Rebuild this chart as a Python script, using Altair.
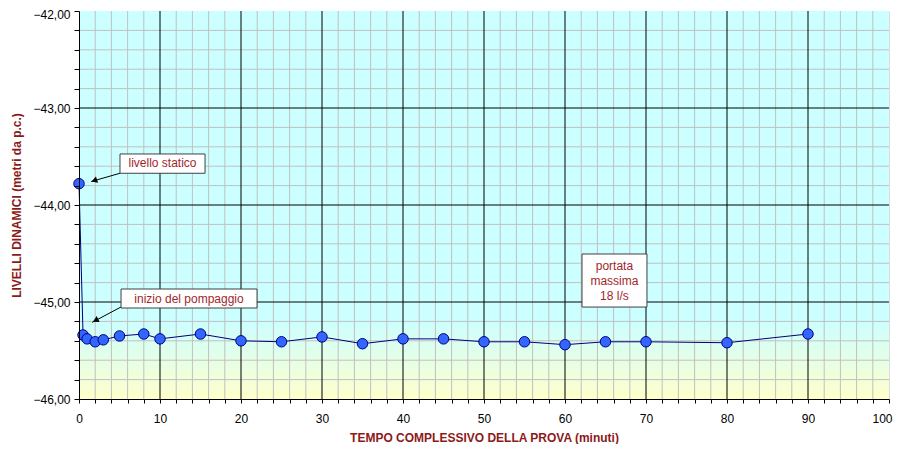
import altair as alt
import pandas as pd

# ---- data ----
times = [0, 0.5, 1, 2, 3, 5, 8, 10, 15, 20, 25, 30, 35, 40, 45, 50, 55, 60, 65, 70, 80, 90]
levels = [-43.78, -45.34, -45.38, -45.41, -45.39, -45.35, -45.33, -45.38, -45.33, -45.40,
          -45.41, -45.36, -45.43, -45.38, -45.38, -45.41, -45.41, -45.44, -45.41, -45.41,
          -45.42, -45.33]

x_ticks = [i * 2 for i in range(51)]
y_ticks = [round(-46 + 0.2 * i, 1) for i in range(21)]
x_major = [10, 20, 30, 40, 50, 60, 70, 80, 90]
y_major = [-45, -44, -43]
x_minor = [v for v in x_ticks if v % 10 != 0]
y_minor = [v for v in y_ticks if abs(v - round(v)) > 0.01]

# annotation boxes (data coordinates)
box_x1 = [5.06, 5.19, 62.1]
box_x2 = [15.56, 21.98, 70.12]
box_y1 = [-43.474, -44.866, -44.505]
box_y2 = [-43.673, -45.062, -45.052]
label_text = ["livello statico", "inizio del pompaggio", "portata", "massima", "18 l/s"]
label_x = [10.31, 13.58, 66.1, 66.1, 66.1]
label_y = [-43.57, -44.964, -44.629, -44.784, -44.938]
arrow_x1 = [5.06, 5.27]
arrow_y1 = [-43.673, -45.048]
arrow_x2 = [1.5, 1.62]
arrow_y2 = [-43.758, -45.21]
head_x = [2.0, 2.15]
head_y = [-43.745, -45.185]
head_angle = [251, 243]

W, H = 810, 388
FONT = "Liberation Sans"
TITLE_RED = "#8B1A1A"
NOTE_RED = "#A3262A"

xs = alt.Scale(domain=[0, 100], nice=False, zero=False)
ys = alt.Scale(domain=[-46, -42], nice=False, zero=False)

x_axis = alt.Axis(
    values=x_ticks, grid=False, tickSize=4, tickColor="black", domainColor="black",
    labelExpr="datum.value % 10 === 0 ? datum.label : ''", labelOverlap=False, labelFlush=False,
    labelOffset={"condition": {"test": "datum.value > 99", "value": -7}, "value": 0},
    labelFont=FONT, labelFontSize=12, labelColor="black", labelPadding=10,
    title="TEMPO COMPLESSIVO DELLA PROVA (minuti)", titleFont=FONT, titleFontSize=12,
    titleFontWeight="bold", titleColor=TITLE_RED, titlePadding=8, zindex=1)
y_axis = alt.Axis(
    values=y_ticks, grid=False, tickSize=5, tickColor="black", domainColor="black",
    labelExpr="abs(datum.value - round(datum.value)) < 0.001 ? replace(format(datum.value, '.2f'), '.', ',') : ''",
    labelOverlap=False, labelFlush=False,
    labelOffset={"condition": {"test": "datum.value > -42.1", "value": 3}, "value": 0},
    labelFont=FONT, labelFontSize=12, labelColor="black", labelPadding=4,
    title="LIVELLI DINAMICI (metri da p.c.)", titleFont=FONT, titleFontSize=12,
    titleFontWeight="bold", titleColor=TITLE_RED, titlePadding=9, zindex=1)


def X(f):
    return alt.X(f, scale=xs, axis=x_axis)


def Y(f):
    return alt.Y(f, scale=ys, axis=y_axis)


df = pd.DataFrame({"t": times, "lev": levels, "i": range(len(times))})

grad = alt.LinearGradient(
    gradient="linear", x1=0, x2=0, y1=0, y2=1,
    stops=[alt.GradientStop(offset=0, color="#CCFFFF"),
           alt.GradientStop(offset=0.8, color="#CCFFFF"),
           alt.GradientStop(offset=1, color="#FFFFCC")])

bg = alt.Chart(alt.Data(values=[{"a": 1}])).mark_rect(fill=grad).encode(
    x=alt.value(0), x2=alt.value(W), y=alt.value(0), y2=alt.value(H))

vminor = alt.Chart(pd.DataFrame({"gx": x_minor})).mark_rule(color="#C0C0C0", strokeWidth=1).encode(
    x=X("gx:Q"))
hminor = alt.Chart(pd.DataFrame({"gy": y_minor})).mark_rule(color="#C0C0C0", strokeWidth=1).encode(
    y=Y("gy:Q"))
vmajor = alt.Chart(pd.DataFrame({"gx": x_major})).mark_rule(color="black", strokeWidth=1).encode(
    x=X("gx:Q"))
hmajor = alt.Chart(pd.DataFrame({"gy": y_major})).mark_rule(color="black", strokeWidth=1).encode(
    y=Y("gy:Q"))

line = alt.Chart(df).mark_line(color="#000080", strokeWidth=1).encode(
    x=X("t:Q"), y=Y("lev:Q"), order="i:Q")
pts = alt.Chart(df).mark_point(filled=True, shape="circle", size=110, fill="#3366FF",
                               stroke="#000080", strokeWidth=1, opacity=1).encode(
    x=X("t:Q"), y=Y("lev:Q"))

boxes = alt.Chart(pd.DataFrame({"x1": box_x1, "x2": box_x2, "y1": box_y1, "y2": box_y2})).mark_rect(
    fill="white", stroke="#404040", strokeWidth=1).encode(
    x=X("x1:Q"), x2="x2:Q", y=Y("y1:Q"), y2="y2:Q")
texts = alt.Chart(pd.DataFrame({"lx": label_x, "ly": label_y, "txt": label_text})).mark_text(
    font=FONT, fontSize=12, color=NOTE_RED, align="center", baseline="middle").encode(
    x=X("lx:Q"), y=Y("ly:Q"), text="txt:N")
arrows = alt.Chart(pd.DataFrame({"ax1": arrow_x1, "ay1": arrow_y1, "ax2": arrow_x2, "ay2": arrow_y2})).mark_rule(
    color="black", strokeWidth=1).encode(
    x=X("ax1:Q"), x2="ax2:Q", y=Y("ay1:Q"), y2="ay2:Q")
heads = alt.Chart(pd.DataFrame({"hx": head_x, "hy": head_y, "ang": head_angle})).mark_point(
    shape="triangle", filled=True, color="black", size=45, opacity=1).encode(
    x=X("hx:Q"), y=Y("hy:Q"), angle=alt.Angle("ang:Q", scale=None))

chart = alt.layer(bg, vminor, hminor, vmajor, hmajor, line, pts, arrows, heads, boxes, texts).properties(
    width=W, height=H,
    autosize=alt.AutoSizeParams(type="none"),
    padding={"left": 71, "top": 3, "right": 6, "bottom": 45},
).configure_view(stroke="black", strokeWidth=1).configure(background="white")

chart.save("out.html", embed_options={"renderer": "svg", "actions": False})
